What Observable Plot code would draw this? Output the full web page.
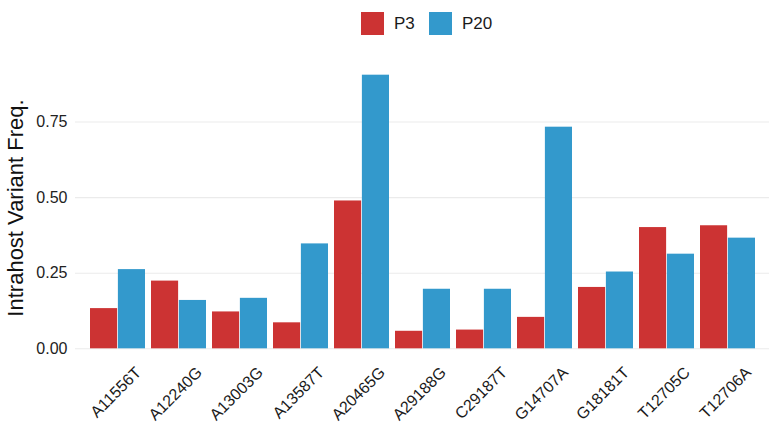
<!DOCTYPE html>
<html>
<head>
<meta charset="utf-8">
<script src="https://cdn.jsdelivr.net/npm/d3@7"></script>
<script src="https://cdn.jsdelivr.net/npm/@observablehq/plot@0.6"></script>
<style>
  html, body { margin: 0; padding: 0; background: #fff; }
  body { width: 774px; height: 424px; overflow: hidden; font-family: "Liberation Sans", Arial, sans-serif; }
  #legend { position: relative; height: 46px; width: 774px; }
  .sw { position: absolute; top: 12px; width: 23px; height: 23px; }
  .lt { position: absolute; top: 12px; font-size: 17px; line-height: 23px; color: #1a1a1a; white-space: nowrap; }
  svg { overflow: visible; }
</style>
</head>
<body>
<div id="legend"></div>
<div id="chart"></div>
<script>
const categories = ["A11556T","A12240G","A13003G","A13587T","A20465G","A29188G","C29187T","G14707A","G18181T","T12705C","T12706A"];
const p3Values  = [0.133, 0.224, 0.122, 0.086, 0.489, 0.058, 0.062, 0.104, 0.203, 0.401, 0.407];
const p20Values = [0.262, 0.160, 0.167, 0.347, 0.905, 0.197, 0.197, 0.733, 0.254, 0.313, 0.366];
const seriesNames = ["P3", "P20"];
const seriesColors = ["#CC3333", "#3399CC"];
const yTicks = [0, 0.25, 0.5, 0.75];
const yTitle = "Intrahost Variant Freq.";

const data = categories.flatMap((c, i) => [
  {cat: c, series: seriesNames[0], value: p3Values[i]},
  {cat: c, series: seriesNames[1], value: p20Values[i]}
]);

// legend
const legend = document.getElementById("legend");
const legendPos = [{sw: 361, tx: 394}, {sw: 428.5, tx: 462}];
seriesNames.forEach((s, i) => {
  const sw = document.createElement("div");
  sw.className = "sw"; sw.style.left = legendPos[i].sw + "px"; sw.style.background = seriesColors[i];
  const t = document.createElement("div");
  t.className = "lt"; t.style.left = legendPos[i].tx + "px"; t.textContent = s;
  legend.appendChild(sw); legend.appendChild(t);
});

const W = 774, H = 378, mL = 75, mR = 5, mT = 15, mB = 62;
const n = categories.length;
const step = (W - mL - mR) / (n - 0.1 + 0.3);
const half = step * 0.9 / 2;
const maxV = d3.max(data, d => d.value);

const chart = Plot.plot({
  width: W, height: H,
  marginLeft: mL, marginRight: mR, marginTop: mT, marginBottom: mB,
  style: {fontFamily: "'Liberation Sans', Arial, sans-serif", background: "white", color: "#1a1a1a", overflow: "visible"},
  x: {domain: categories, paddingInner: 0.1, paddingOuter: 0.15, label: null, axis: null},
  y: {domain: [-0.05 * maxV, 1.05 * maxV], label: null},
  marks: [
    Plot.ruleY(yTicks, {stroke: "#ebebeb", strokeWidth: 1.1}),
    Plot.barY(data.filter(d => d.series === seriesNames[0]), {x: "cat", y: "value", fill: seriesColors[0], insetRight: half}),
    Plot.barY(data.filter(d => d.series === seriesNames[1]), {x: "cat", y: "value", fill: seriesColors[1], insetLeft: half}),
    Plot.axisY(yTicks, {tickSize: 0, tickPadding: 8, tickFormat: d3.format(".2f"), fontSize: 16, fill: "#222", label: null}),
    Plot.text(categories, {x: d => d, text: d => d, frameAnchor: "bottom", textAnchor: "end", lineAnchor: "top", rotate: -45, dx: 16, dy: 3, fontSize: 16, fill: "#1a1a1a"}),
    Plot.text([yTitle], {frameAnchor: "left", textAnchor: "middle", rotate: -90, dx: -60, dy: -4, fontSize: 22, fill: "#111", text: d => d})
  ]
});
document.getElementById("chart").appendChild(chart);
</script>
</body>
</html>
